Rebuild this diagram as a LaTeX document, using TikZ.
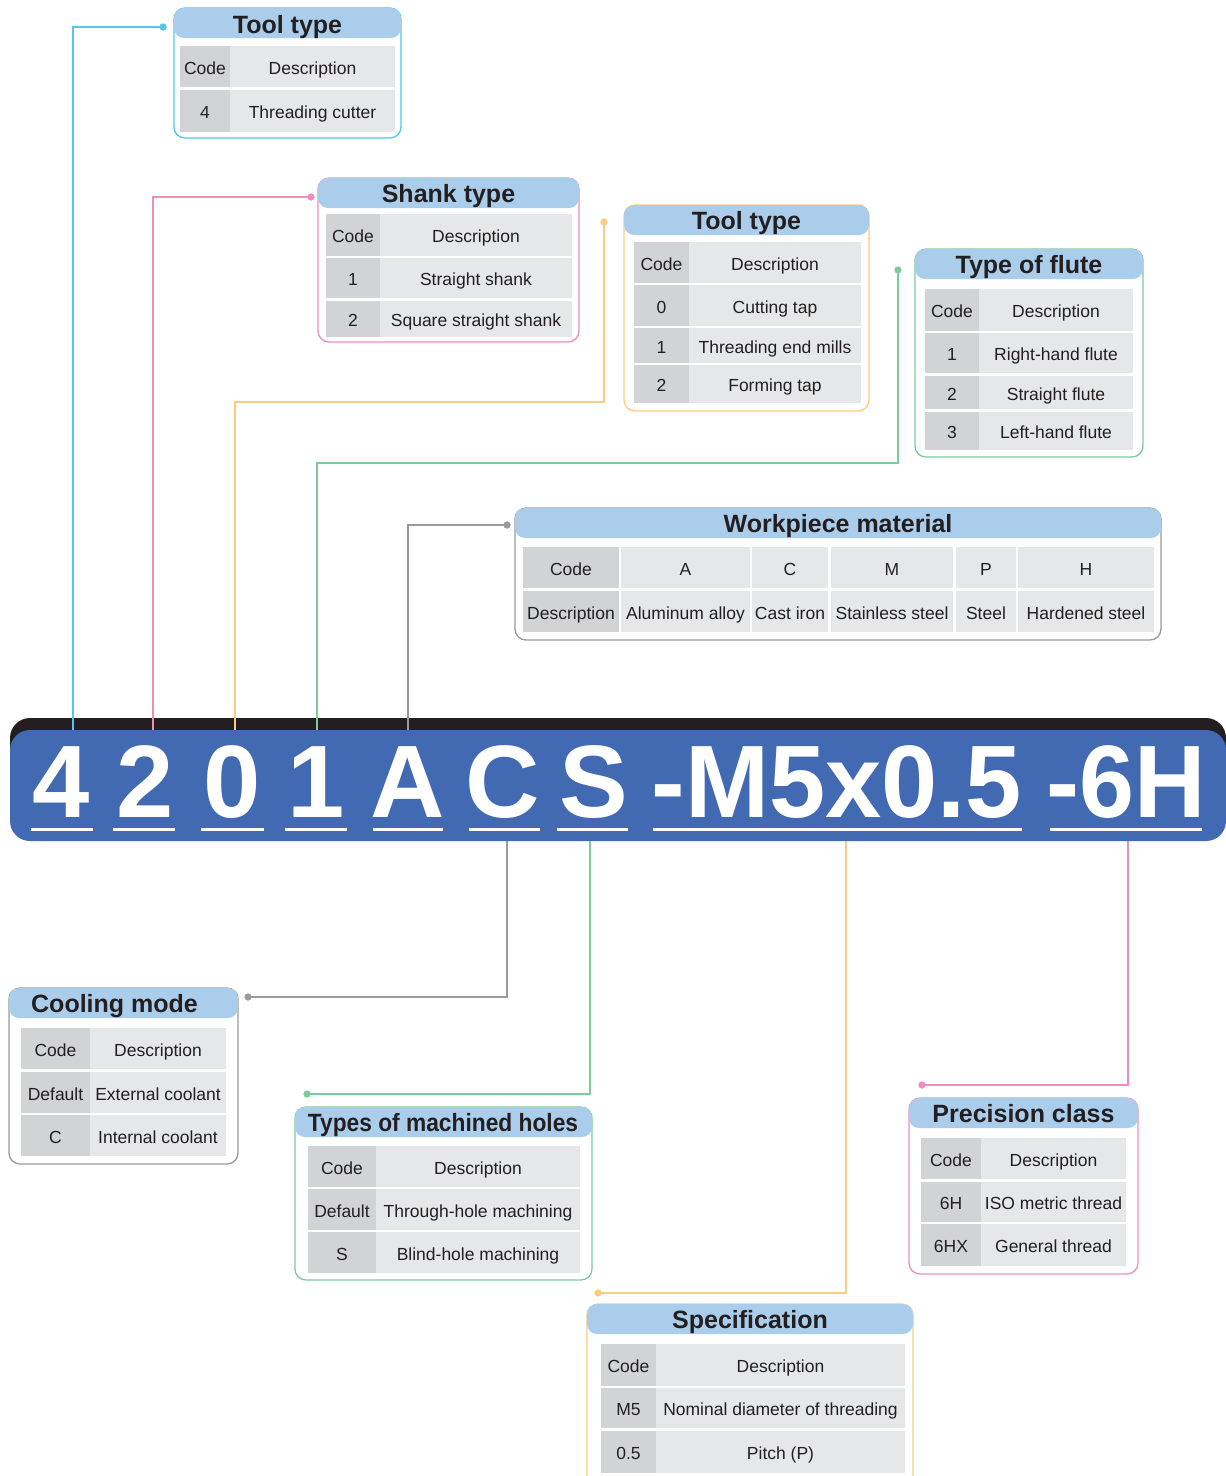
\documentclass[tikz,border=0pt]{standalone}
\usepackage{fontspec}
\setmainfont{Liberation Sans}
\usepackage{graphicx}
\definecolor{cyanc}{HTML}{55C5EE}
\definecolor{pinkc}{HTML}{F08DBD}
\definecolor{orangec}{HTML}{FDCB80}
\definecolor{greenc}{HTML}{7CCB9C}
\definecolor{grayc}{HTML}{9A9A9A}
\definecolor{titlebg}{HTML}{ABCDEC}
\definecolor{codebg}{HTML}{D1D3D4}
\definecolor{descbg}{HTML}{E6E7E8}
\definecolor{barblue}{HTML}{416AB3}
\definecolor{barblack}{HTML}{231F20}
\definecolor{txt}{HTML}{231F20}
\tikzset{
  tcell/.style={inner sep=0pt, text height=15pt, text depth=0pt, font=\fontsize{17.5}{20}\selectfont, text=txt},
  framebox/.style={draw=#1, line width=1.3pt, rounded corners=11pt, inner sep=0pt, fill=white},
  titlebar/.style={fill=titlebg, rounded corners=10pt, inner sep=0pt},
  titletext/.style={font=\fontsize{25}{28}\selectfont\bfseries, text=txt, inner sep=0pt, anchor=base},
  dotn/.style={circle, fill=#1, inner sep=0pt, minimum size=7pt},
  conn/.style={draw=#1, line width=1.5pt},
  bigchar/.style={font=\fontsize{103}{110}\selectfont\bfseries, text=white, inner sep=0pt, anchor=base},
}
% cell: name, x1, y1, x2, y2, fill, text
\newcommand{\tc}[7]{\node[tcell, fill=#6, minimum width={#4-#2}, minimum height={#5-#3}] (#1) at ({(#2+#4)/2},{(#3+#5)/2}) {#7};}
% frame: name, x1, y1, x2, y2, colour
\newcommand{\fbx}[6]{\node[framebox=#6, minimum width={#4-#2}, minimum height={#5-#3}] (#1) at ({(#2+#4)/2},{(#3+#5)/2}) {};}
% title bar: name, x1, y1, x2, y2
\newcommand{\tbar}[5]{\node[titlebar, minimum width={#4-#2}, minimum height={#5-#3}] (#1) at ({(#2+#4)/2},{(#3+#5)/2}) {};}
\begin{document}
\begin{tikzpicture}[x=1pt,y=-1pt]
\useasboundingbox (0,0) rectangle (1226,1476);

% ---------- code bar (black strip) ----------
\node[fill=barblack, rounded corners=20pt, inner sep=0pt, minimum width=1216pt, minimum height=112pt] (barshadow) at (618,774) {};

% ---------- connector anchors ----------
\node[dotn=cyanc] (d1) at (163,27) {};
\node[dotn=pinkc] (d2) at (311,197) {};
\node[dotn=orangec] (d3) at (604,222) {};
\node[dotn=greenc] (d4) at (898,270) {};
\node[dotn=grayc] (d5) at (507,525) {};
\node[dotn=grayc] (d6) at (248,997) {};
\node[dotn=greenc] (d7) at (307,1094) {};
\node[dotn=orangec] (d8) at (598,1293) {};
\node[dotn=pinkc] (d9) at (922,1085) {};
\coordinate (p1) at (73,736);
\coordinate (p2) at (153,736);
\coordinate (p3) at (235,736);
\coordinate (p4) at (317,736);
\coordinate (p5) at (408,736);
\coordinate (k3) at (604,402);
\coordinate (k4) at (898,463);
\coordinate (q6) at (507,835);
\coordinate (q7) at (590,835);
\coordinate (q8) at (846,835);
\coordinate (q9) at (1128,835);

\draw[conn=cyanc] (d1.center) -| (p1);
\draw[conn=pinkc] (d2.center) -| (p2);
\draw[conn=orangec] (d3.center) -- (k3) -| (p3);
\draw[conn=greenc] (d4.center) -- (k4) -| (p4);
\draw[conn=grayc] (d5.center) -| (p5);
\draw[conn=grayc] (q6) |- (d6.center);
\draw[conn=greenc] (q7) |- (d7.center);
\draw[conn=orangec] (q8) |- (d8.center);
\draw[conn=pinkc] (q9) |- (d9.center);

% redraw dots on top of lines
\fill[cyanc] (d1) circle (3.5pt);
\fill[pinkc] (d2) circle (3.5pt);
\fill[orangec] (d3) circle (3.5pt);
\fill[greenc] (d4) circle (3.5pt);
\fill[grayc] (d5) circle (3.5pt);
\fill[grayc] (d6) circle (3.5pt);
\fill[greenc] (d7) circle (3.5pt);
\fill[orangec] (d8) circle (3.5pt);
\fill[pinkc] (d9) circle (3.5pt);

% ---------- code bar (blue) ----------
\node[fill=barblue, rounded corners=20pt, inner sep=0pt, minimum width=1216pt, minimum height=111pt] (bar) at (618,785.5) {};

\node[bigchar] (g1) at (61,817) {4};
\node[bigchar] (g2) at (145,817) {2};
\node[bigchar] (g3) at (232,817) {0};
\node[bigchar] (g4) at (316,817) {1};
\node[bigchar] (g5) at (408,817) {A};
\node[bigchar] (g6) at (503,817) {C};
\node[bigchar] (g7) at (594,817) {S};
\node[bigchar] (g8) at (837,817) {\scalebox{0.98}[1]{-M5x0.5}};
\node[bigchar] (g9) at (1126,817) {\scalebox{0.96}[1]{-6H}};

\fill[white] (31,827.5) rectangle (93,831);
\fill[white] (113,827.5) rectangle (175,831);
\fill[white] (201,827.5) rectangle (264,831);
\fill[white] (285,827.5) rectangle (347,831);
\fill[white] (373,827.5) rectangle (443,831);
\fill[white] (469,827.5) rectangle (540,831);
\fill[white] (557,827.5) rectangle (628,831);
\fill[white] (653,827.5) rectangle (1022,831);
\fill[white] (1050,827.5) rectangle (1202,831);

% ---------- Box 1: Tool type (cyan) ----------
\fbx{f1}{174}{8}{401}{138}{cyanc}
\tbar{b1}{174}{8}{401}{38}
\node[titletext] (t1) at (287.5,33) {Tool type};
\tc{c1h}{180}{46}{230}{87}{codebg}{Code}
\tc{e1h}{230}{46}{395}{87}{descbg}{Description}
\tc{c1a}{180}{90}{230}{132}{codebg}{4}
\tc{e1a}{230}{90}{395}{132}{descbg}{Threading cutter}

% ---------- Box 2: Shank type (pink) ----------
\fbx{f2}{318}{178}{579}{342}{pinkc}
\tbar{b2}{318}{178}{579}{208}
\node[titletext] (t2) at (448.5,202.5) {Shank type};
\tc{c2h}{326}{214}{380}{256}{codebg}{Code}
\tc{e2h}{380}{214}{572}{256}{descbg}{Description}
\tc{c2a}{326}{258}{380}{298}{codebg}{1}
\tc{e2a}{380}{258}{572}{298}{descbg}{Straight shank}
\tc{c2b}{326}{301}{380}{337}{codebg}{2}
\tc{e2b}{380}{301}{572}{337}{descbg}{Square straight shank}

% ---------- Box 3: Tool type (orange) ----------
\fbx{f3}{624}{205}{869}{411}{orangec}
\tbar{b3}{624}{205}{869}{235}
\node[titletext] (t3) at (746.5,229.5) {Tool type};
\tc{c3h}{634}{242}{689}{283}{codebg}{Code}
\tc{e3h}{689}{242}{861}{283}{descbg}{Description}
\tc{c3a}{634}{285}{689}{326}{codebg}{0}
\tc{e3a}{689}{285}{861}{326}{descbg}{Cutting tap}
\tc{c3b}{634}{328}{689}{363}{codebg}{1}
\tc{e3b}{689}{328}{861}{363}{descbg}{Threading end mills}
\tc{c3c}{634}{365}{689}{403}{codebg}{2}
\tc{e3c}{689}{365}{861}{403}{descbg}{Forming tap}

% ---------- Box 4: Type of flute (green) ----------
\fbx{f4}{915}{249}{1143}{457}{greenc}
\tbar{b4}{915}{249}{1143}{279}
\node[titletext] (t4) at (1029,273.5) {Type of flute};
\tc{c4h}{925}{289}{979}{331}{codebg}{Code}
\tc{e4h}{979}{289}{1133}{331}{descbg}{Description}
\tc{c4a}{925}{333}{979}{373}{codebg}{1}
\tc{e4a}{979}{333}{1133}{373}{descbg}{Right-hand flute}
\tc{c4b}{925}{376}{979}{409}{codebg}{2}
\tc{e4b}{979}{376}{1133}{409}{descbg}{Straight flute}
\tc{c4c}{925}{412}{979}{450}{codebg}{3}
\tc{e4c}{979}{412}{1133}{450}{descbg}{Left-hand flute}

% ---------- Box 5: Workpiece material (gray) ----------
\fbx{f5}{515}{508}{1161}{640}{grayc}
\tbar{b5}{515}{508}{1161}{538}
\node[titletext] (t5) at (838,532.5) {Workpiece material};
\tc{c5h}{523}{547}{619}{588}{codebg}{Code}
\tc{c5d}{523}{591}{619}{632}{codebg}{Description}
\tc{w5a}{621}{547}{750}{588}{descbg}{A}
\tc{x5a}{621}{591}{750}{632}{descbg}{Aluminum alloy}
\tc{w5c}{752}{547}{828}{588}{descbg}{C}
\tc{x5c}{752}{591}{828}{632}{descbg}{Cast iron}
\tc{w5m}{831}{547}{953}{588}{descbg}{M}
\tc{x5m}{831}{591}{953}{632}{descbg}{Stainless steel}
\tc{w5p}{956}{547}{1016}{588}{descbg}{P}
\tc{x5p}{956}{591}{1016}{632}{descbg}{Steel}
\tc{w5h}{1018}{547}{1154}{588}{descbg}{H}
\tc{x5h}{1018}{591}{1154}{632}{descbg}{Hardened steel}

% ---------- Box 6: Cooling mode (gray) ----------
\fbx{f6}{9}{988}{238}{1164}{grayc}
\tbar{b6}{9}{988}{238}{1018}
\node[titletext] (t6) at (114.5,1012.5) {Cooling mode};
\tc{c6h}{21}{1028}{90}{1069}{codebg}{Code}
\tc{e6h}{90}{1028}{226}{1069}{descbg}{Description}
\tc{c6a}{21}{1072}{90}{1113}{codebg}{Default}
\tc{e6a}{90}{1072}{226}{1113}{descbg}{External coolant}
\tc{c6b}{21}{1115}{90}{1156}{codebg}{C}
\tc{e6b}{90}{1115}{226}{1156}{descbg}{Internal coolant}

% ---------- Box 7: Types of machined holes (green) ----------
\fbx{f7}{295}{1107}{592}{1280}{greenc}
\tbar{b7}{295}{1107}{592}{1137}
\node[titletext] (t7) at (443,1131) {\scalebox{0.91}[1]{Types of machined holes}};
\tc{c7h}{308}{1146}{376}{1187}{codebg}{Code}
\tc{e7h}{376}{1146}{580}{1187}{descbg}{Description}
\tc{c7a}{308}{1189}{376}{1230}{codebg}{Default}
\tc{e7a}{376}{1189}{580}{1230}{descbg}{Through-hole machining}
\tc{c7b}{308}{1232}{376}{1273}{codebg}{S}
\tc{e7b}{376}{1232}{580}{1273}{descbg}{Blind-hole machining}

% ---------- Box 8: Precision class (pink) ----------
\fbx{f8}{909}{1098}{1138}{1274}{pinkc}
\tbar{b8}{909}{1098}{1138}{1128}
\node[titletext] (t8) at (1023.5,1122.5) {Precision class};
\tc{c8h}{921}{1138}{981}{1179}{codebg}{Code}
\tc{e8h}{981}{1138}{1126}{1179}{descbg}{Description}
\tc{c8a}{921}{1182}{981}{1222}{codebg}{6H}
\tc{e8a}{981}{1182}{1126}{1222}{descbg}{ISO metric thread}
\tc{c8b}{921}{1224}{981}{1266}{codebg}{6HX}
\tc{e8b}{981}{1224}{1126}{1266}{descbg}{General thread}

% ---------- Box 9: Specification (orange) ----------
\fbx{f9}{587}{1304}{913}{1490}{orangec}
\tbar{b9}{587}{1304}{913}{1334}
\node[titletext] (t9) at (750,1328.5) {Specification};
\tc{c9h}{601}{1344}{656}{1386}{codebg}{Code}
\tc{e9h}{656}{1344}{905}{1386}{descbg}{Description}
\tc{c9a}{601}{1388}{656}{1428}{codebg}{M5}
\tc{e9a}{656}{1388}{905}{1428}{descbg}{Nominal diameter of threading}
\tc{c9b}{601}{1431}{656}{1473}{codebg}{0.5}
\tc{e9b}{656}{1431}{905}{1473}{descbg}{Pitch (P)}
\end{tikzpicture}
\end{document}
